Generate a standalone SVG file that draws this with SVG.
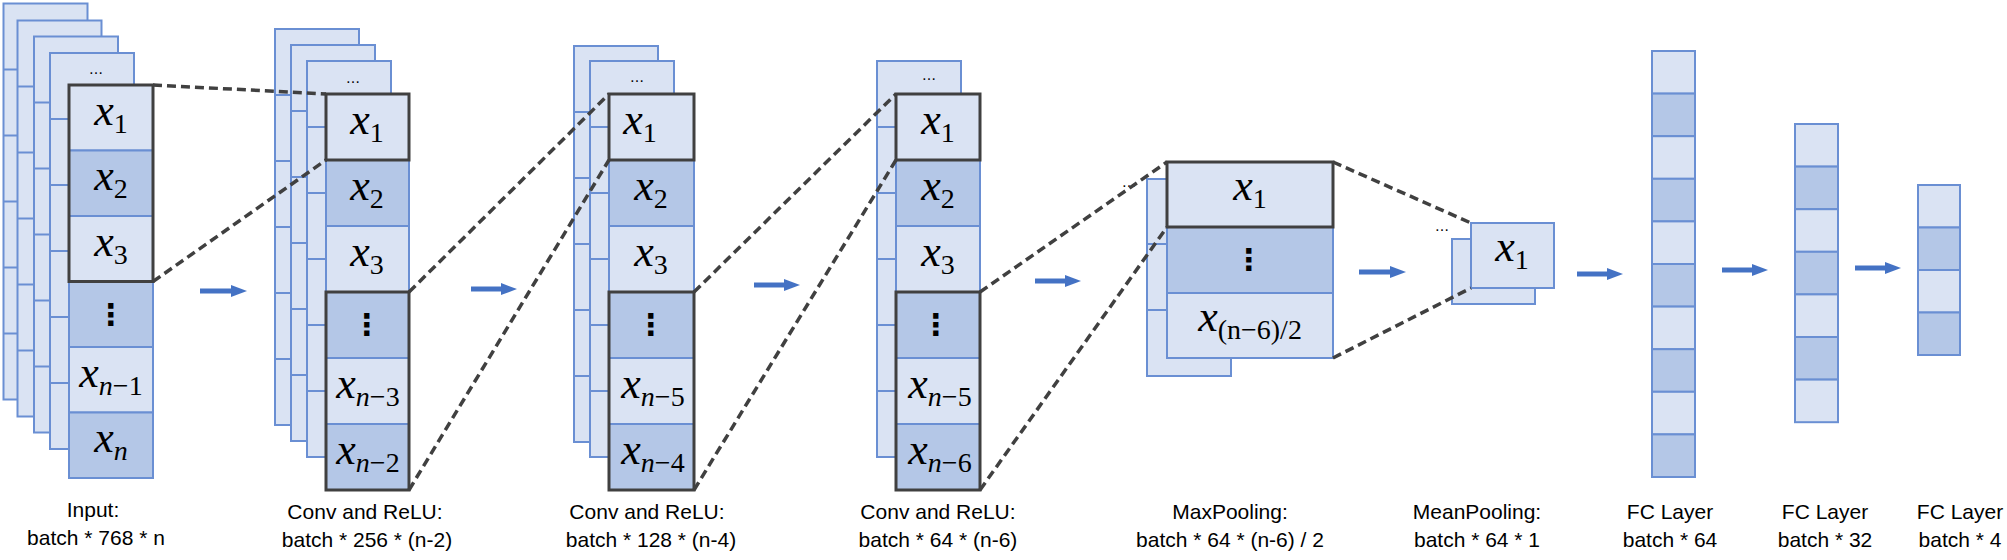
<svg xmlns="http://www.w3.org/2000/svg" width="2007" height="560" viewBox="0 0 2007 560">
<style>
.l{fill:#dae3f3;stroke:#6a8fd3;stroke-width:2}
.d{fill:#b4c7e7;stroke:#6a8fd3;stroke-width:2}
.bx{fill:none;stroke:#404040;stroke-width:3}
.ln{stroke:#6a8fd3;stroke-width:2}
.dash{stroke:#404040;stroke-width:3.5;stroke-dasharray:9 5;fill:none}
.ar{stroke:#4472c4;stroke-width:5;fill:none}
.m{font-family:"Liberation Serif",serif;font-style:italic;font-size:44px;fill:#000;text-anchor:middle}
.s{font-size:28px}
.u{font-style:normal}
.dots{font-family:"DejaVu Sans",sans-serif;font-size:30px;font-weight:bold;text-anchor:middle}
.el{font-family:"DejaVu Sans",sans-serif;font-size:14px;text-anchor:middle}
.t{font-family:"Liberation Sans",Arial,sans-serif;font-size:21px;fill:#000;text-anchor:middle}
</style>
<defs>
<marker id="ah" markerUnits="userSpaceOnUse" markerWidth="16" markerHeight="16" refX="2" refY="8" orient="auto">
<path d="M0,2 L16,8 L0,14 Z" fill="#4472c4"/>
</marker>
<g id="back">
<rect class="l" x="0" y="0" width="84" height="396"/>
<line class="ln" x1="0" y1="66" x2="84" y2="66"/><line class="ln" x1="0" y1="132" x2="84" y2="132"/><line class="ln" x1="0" y1="198" x2="84" y2="198"/><line class="ln" x1="0" y1="264" x2="84" y2="264"/><line class="ln" x1="0" y1="330" x2="84" y2="330"/>
</g>
</defs>
<rect width="2007" height="560" fill="#fff"/>

<g id="input">
<use href="#back" x="3.5" y="3.5"/><use href="#back" x="17.5" y="20.5"/><use href="#back" x="34" y="36.5"/><use href="#back" x="50" y="53"/>
<text class="el" x="96" y="74">…</text>
<rect class="l" x="69" y="85" width="84" height="65.5"/>
<rect class="d" x="69" y="150.5" width="84" height="65.5"/>
<rect class="l" x="69" y="216" width="84" height="65.5"/>
<rect class="d" x="69" y="281.5" width="84" height="65.5"/>
<rect class="l" x="69" y="347" width="84" height="65.5"/>
<rect class="d" x="69" y="412.5" width="84" height="65.5"/>
<rect class="bx" x="69" y="85" width="84" height="196.5"/>
<text class="m" x="111" y="125">x<tspan class="s u" dy="8">1</tspan></text>
<text class="m" x="111" y="190">x<tspan class="s u" dy="8">2</tspan></text>
<text class="m" x="111" y="256">x<tspan class="s u" dy="8">3</tspan></text>
<text class="dots" x="111" y="325">⋮</text>
<text class="m" x="111" y="387">x<tspan class="s" dy="8">n</tspan><tspan class="s u">−1</tspan></text>
<text class="m" x="111" y="452">x<tspan class="s" dy="8">n</tspan></text>
<text class="t" x="93" y="517">Input:</text>
<text class="t" x="96" y="545">batch * 768 * n</text>
</g>

<g id="conv1">
<use href="#back" x="275" y="29"/><use href="#back" x="291" y="45"/><use href="#back" x="307" y="61"/>
<text class="el" x="353" y="83">…</text>
<rect class="l" x="326" y="94" width="83" height="66"/>
<rect class="d" x="326" y="160" width="83" height="66"/>
<rect class="l" x="326" y="226" width="83" height="66"/>
<rect class="d" x="326" y="292" width="83" height="66"/>
<rect class="l" x="326" y="358" width="83" height="66"/>
<rect class="d" x="326" y="424" width="83" height="66"/>
<rect class="bx" x="326" y="94" width="83" height="66"/>
<rect class="bx" x="326" y="292" width="83" height="198"/>
<text class="m" x="367" y="134">x<tspan class="s u" dy="8">1</tspan></text>
<text class="m" x="367" y="200">x<tspan class="s u" dy="8">2</tspan></text>
<text class="m" x="367" y="266">x<tspan class="s u" dy="8">3</tspan></text>
<text class="dots" x="367" y="335">⋮</text>
<text class="m" x="368" y="398">x<tspan class="s" dy="8">n</tspan><tspan class="s u">−3</tspan></text>
<text class="m" x="368" y="464">x<tspan class="s" dy="8">n</tspan><tspan class="s u">−2</tspan></text>
<text class="t" x="365" y="519">Conv and ReLU:</text>
<text class="t" x="367" y="547">batch * 256 * (n-2)</text>
</g>

<g id="conv2">
<use href="#back" x="574" y="46"/><use href="#back" x="590" y="61"/>
<text class="el" x="637" y="82">…</text>
<rect class="l" x="609" y="94" width="85" height="66"/>
<rect class="d" x="609" y="160" width="85" height="66"/>
<rect class="l" x="609" y="226" width="85" height="66"/>
<rect class="d" x="609" y="292" width="85" height="66"/>
<rect class="l" x="609" y="358" width="85" height="66"/>
<rect class="d" x="609" y="424" width="85" height="66"/>
<rect class="bx" x="609" y="94" width="85" height="66"/>
<rect class="bx" x="609" y="292" width="85" height="198"/>
<text class="m" x="640" y="134">x<tspan class="s u" dy="8">1</tspan></text>
<text class="m" x="651" y="200">x<tspan class="s u" dy="8">2</tspan></text>
<text class="m" x="651" y="266">x<tspan class="s u" dy="8">3</tspan></text>
<text class="dots" x="651" y="335">⋮</text>
<text class="m" x="653" y="398">x<tspan class="s" dy="8">n</tspan><tspan class="s u">−5</tspan></text>
<text class="m" x="653" y="464">x<tspan class="s" dy="8">n</tspan><tspan class="s u">−4</tspan></text>
<text class="t" x="647" y="519">Conv and ReLU:</text>
<text class="t" x="651" y="547">batch * 128 * (n-4)</text>
</g>

<g id="conv3">
<use href="#back" x="877" y="61"/>
<text class="el" x="929" y="80">…</text>
<rect class="l" x="896" y="94" width="84" height="66"/>
<rect class="d" x="896" y="160" width="84" height="66"/>
<rect class="l" x="896" y="226" width="84" height="66"/>
<rect class="d" x="896" y="292" width="84" height="66"/>
<rect class="l" x="896" y="358" width="84" height="66"/>
<rect class="d" x="896" y="424" width="84" height="66"/>
<rect class="bx" x="896" y="94" width="84" height="66"/>
<rect class="bx" x="896" y="292" width="84" height="198"/>
<text class="m" x="938" y="134">x<tspan class="s u" dy="8">1</tspan></text>
<text class="m" x="938" y="200">x<tspan class="s u" dy="8">2</tspan></text>
<text class="m" x="938" y="266">x<tspan class="s u" dy="8">3</tspan></text>
<text class="dots" x="936" y="335">⋮</text>
<text class="m" x="940" y="398">x<tspan class="s" dy="8">n</tspan><tspan class="s u">−5</tspan></text>
<text class="m" x="940" y="464">x<tspan class="s" dy="8">n</tspan><tspan class="s u">−6</tspan></text>
<text class="t" x="938" y="519">Conv and ReLU:</text>
<text class="t" x="938" y="547">batch * 64 * (n-6)</text>
</g>

<g id="maxpool">
<rect class="l" x="1147" y="179" width="84" height="197"/>
<line class="ln" x1="1147" y1="244" x2="1231" y2="244"/><line class="ln" x1="1147" y1="310" x2="1231" y2="310"/>
<text class="el" x="1129" y="187">…</text>
<rect class="l" x="1167" y="162" width="166" height="65"/>
<rect class="d" x="1167" y="227" width="166" height="66"/>
<rect class="l" x="1167" y="293" width="166" height="65"/>
<rect class="bx" x="1167" y="162" width="166" height="65"/>
<text class="m" x="1250" y="200">x<tspan class="s u" dy="8">1</tspan></text>
<text class="dots" x="1249" y="270">⋮</text>
<text class="m" x="1250" y="331">x<tspan class="s u" dy="8">(n−6)/2</tspan></text>
<text class="t" x="1230" y="519">MaxPooling:</text>
<text class="t" x="1230" y="547">batch * 64 * (n-6) / 2</text>
</g>

<g id="meanpool">
<rect class="l" x="1452" y="239" width="83" height="65"/>
<rect class="l" x="1471" y="223" width="83" height="65"/>
<text class="el" x="1442" y="231">…</text>
<text class="m" x="1512" y="261">x<tspan class="s u" dy="8">1</tspan></text>
<text class="t" x="1477" y="519">MeanPooling:</text>
<text class="t" x="1477" y="547">batch * 64 * 1</text>
</g>

<g id="fc64">
<rect class="l" x="1652" y="51" width="43" height="42.6"/>
<rect class="d" x="1652" y="93.6" width="43" height="42.6"/>
<rect class="l" x="1652" y="136.2" width="43" height="42.6"/>
<rect class="d" x="1652" y="178.8" width="43" height="42.6"/>
<rect class="l" x="1652" y="221.4" width="43" height="42.6"/>
<rect class="d" x="1652" y="264" width="43" height="42.6"/>
<rect class="l" x="1652" y="306.6" width="43" height="42.6"/>
<rect class="d" x="1652" y="349.2" width="43" height="42.6"/>
<rect class="l" x="1652" y="391.8" width="43" height="42.6"/>
<rect class="d" x="1652" y="434.4" width="43" height="42.6"/>
<text class="t" x="1670" y="519">FC Layer</text>
<text class="t" x="1670" y="547">batch * 64</text>
</g>

<g id="fc32">
<rect class="l" x="1795" y="124" width="43" height="42.6"/>
<rect class="d" x="1795" y="166.6" width="43" height="42.6"/>
<rect class="l" x="1795" y="209.2" width="43" height="42.6"/>
<rect class="d" x="1795" y="251.8" width="43" height="42.6"/>
<rect class="l" x="1795" y="294.4" width="43" height="42.6"/>
<rect class="d" x="1795" y="337" width="43" height="42.6"/>
<rect class="l" x="1795" y="379.6" width="43" height="42.6"/>
<text class="t" x="1825" y="519">FC Layer</text>
<text class="t" x="1825" y="547">batch * 32</text>
</g>

<g id="fc4">
<rect class="l" x="1918" y="185" width="42" height="42.5"/>
<rect class="d" x="1918" y="227.5" width="42" height="42.5"/>
<rect class="l" x="1918" y="270" width="42" height="42.5"/>
<rect class="d" x="1918" y="312.5" width="42" height="42.5"/>
<text class="t" x="1960" y="519">FC Layer</text>
<text class="t" x="1960" y="547">batch * 4</text>
</g>

<g id="connectors">
<line class="dash" x1="153" y1="85" x2="326" y2="94"/>
<line class="dash" x1="153" y1="281.5" x2="326" y2="160"/>
<line class="dash" x1="409" y1="292" x2="609" y2="94"/>
<line class="dash" x1="409" y1="490" x2="609" y2="160"/>
<line class="dash" x1="694" y1="292" x2="896" y2="94"/>
<line class="dash" x1="694" y1="490" x2="896" y2="160"/>
<line class="dash" x1="980" y1="292" x2="1167" y2="162"/>
<line class="dash" x1="980" y1="490" x2="1167" y2="227"/>
<line class="dash" x1="1333" y1="162" x2="1471" y2="223"/>
<line class="dash" x1="1333" y1="358" x2="1471" y2="288"/>
<line class="ar" x1="200" y1="291" x2="233" y2="291" marker-end="url(#ah)"/>
<line class="ar" x1="471" y1="289" x2="503" y2="289" marker-end="url(#ah)"/>
<line class="ar" x1="754" y1="285" x2="786" y2="285" marker-end="url(#ah)"/>
<line class="ar" x1="1035" y1="281" x2="1067" y2="281" marker-end="url(#ah)"/>
<line class="ar" x1="1359" y1="272" x2="1392" y2="272" marker-end="url(#ah)"/>
<line class="ar" x1="1577" y1="274" x2="1609" y2="274" marker-end="url(#ah)"/>
<line class="ar" x1="1722" y1="270" x2="1754" y2="270" marker-end="url(#ah)"/>
<line class="ar" x1="1855" y1="268" x2="1887" y2="268" marker-end="url(#ah)"/>
</g>
</svg>
